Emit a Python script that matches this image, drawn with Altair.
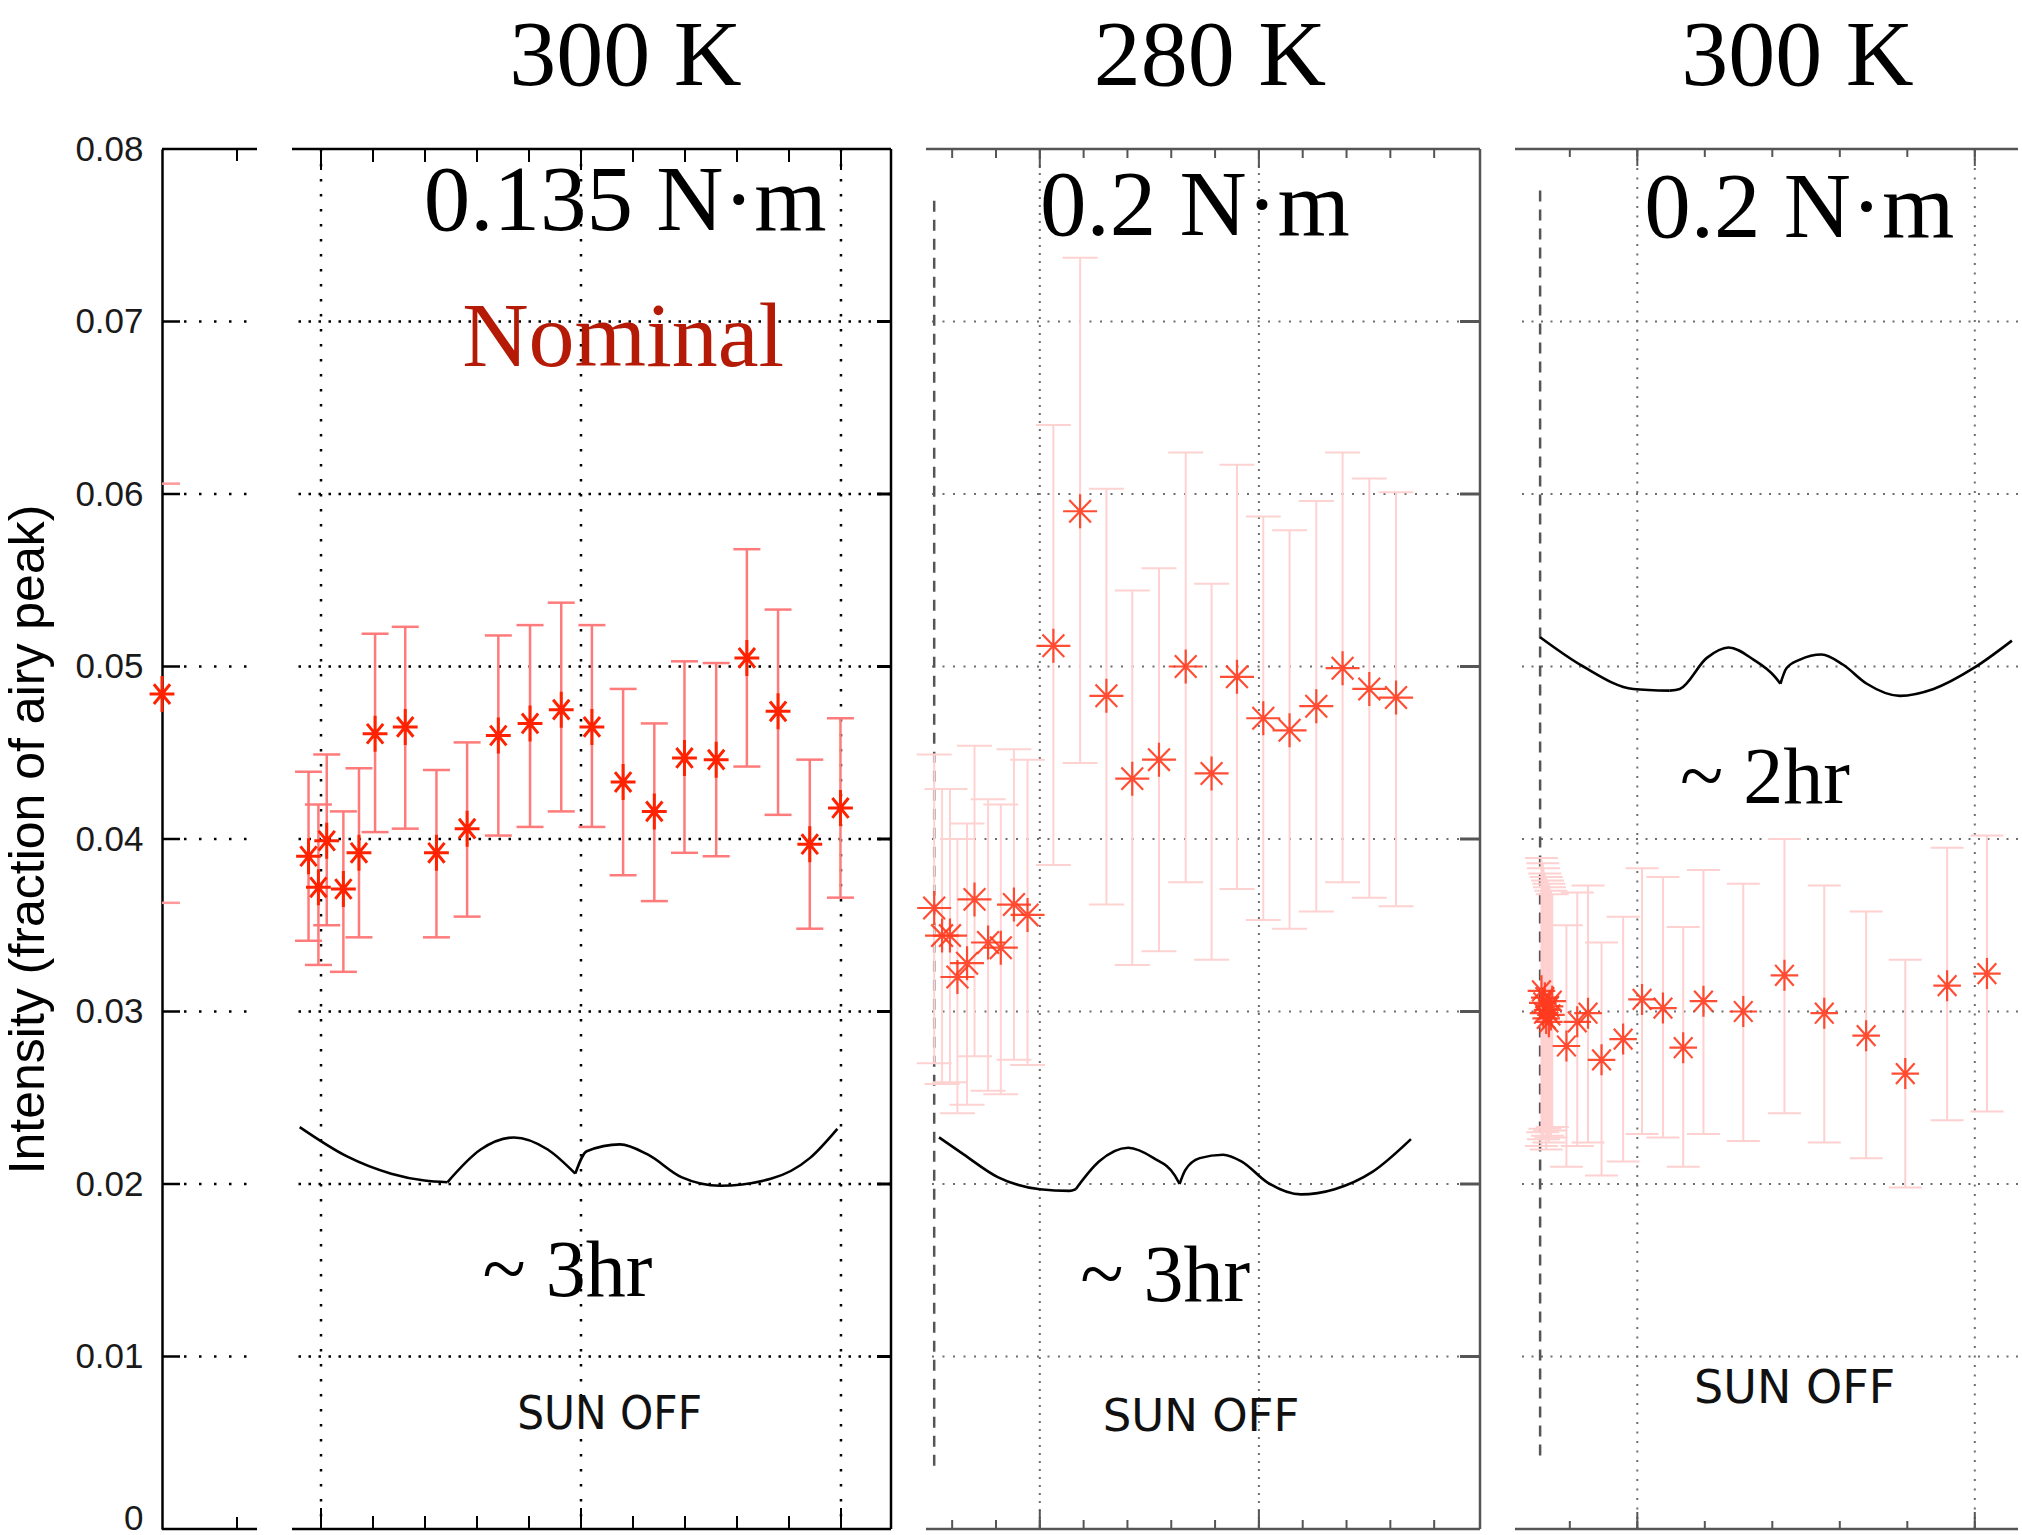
import altair as alt
import pandas as pd

# ---------------- data ----------------
Y_TICKS = [0, 0.01, 0.02, 0.03, 0.04, 0.05, 0.06, 0.07, 0.08]
GRID_Y = [0.01, 0.02, 0.03, 0.04, 0.05, 0.06, 0.07]

# point sitting on the left axis
a_t = [0.0]
a_val = [0.0484]
a_hi = [0.0606]
a_lo = [0.0363]

# panel 1: 300 K, 0.135 N·m (nominal)
p1_t = [-0.24, -0.05, 0.11, 0.43, 0.73, 1.04, 1.62, 2.22, 2.81, 3.41, 4.02,
        4.62, 5.21, 5.81, 6.41, 6.99, 7.60, 8.19, 8.79, 9.40, 9.99]
p1_val = [0.0390, 0.0372, 0.0399, 0.0371, 0.0392, 0.0461, 0.0465, 0.0392, 0.0406, 0.0460, 0.0467,
          0.0475, 0.0465, 0.0433, 0.0416, 0.0447, 0.0446, 0.0505, 0.0474, 0.0397, 0.0418]
p1_hi = [0.0439, 0.0420, 0.0449, 0.0416, 0.0441, 0.0519, 0.0523, 0.0440, 0.0456, 0.0518, 0.0524,
         0.0537, 0.0524, 0.0487, 0.0467, 0.0503, 0.0502, 0.0568, 0.0533, 0.0446, 0.0470]
p1_lo = [0.0341, 0.0327, 0.0350, 0.0323, 0.0343, 0.0404, 0.0406, 0.0343, 0.0355, 0.0402, 0.0407,
         0.0416, 0.0407, 0.0379, 0.0364, 0.0392, 0.0390, 0.0442, 0.0414, 0.0348, 0.0366]

# panel 2: 280 K, 0.2 N·m
p2_t = [-2.41, -2.23, -2.05, -1.88, -1.66, -1.49, -1.18, -0.89, -0.59, -0.28, 0.31, 0.92,
        1.52, 2.11, 2.72, 3.33, 3.92, 4.50, 5.10, 5.70, 6.31, 6.91, 7.52, 8.13]
p2_val = [0.0360, 0.0344, 0.0344, 0.0320, 0.0328, 0.0365, 0.0340, 0.0337, 0.0362, 0.0356, 0.0512, 0.0590,
          0.0483, 0.0435, 0.0446, 0.0500, 0.0438, 0.0494, 0.0470, 0.0463, 0.0477, 0.0499, 0.0487, 0.0482]
p2_hi = [0.0449, 0.0429, 0.0429, 0.0400, 0.0409, 0.0454, 0.0423, 0.0420, 0.0452, 0.0446, 0.0640, 0.0737,
         0.0603, 0.0544, 0.0557, 0.0624, 0.0548, 0.0617, 0.0587, 0.0579, 0.0596, 0.0624, 0.0609, 0.0601]
p2_lo = [0.0270, 0.0258, 0.0259, 0.0241, 0.0246, 0.0274, 0.0254, 0.0252, 0.0272, 0.0269, 0.0385, 0.0444,
         0.0362, 0.0327, 0.0335, 0.0375, 0.0330, 0.0371, 0.0353, 0.0348, 0.0358, 0.0375, 0.0366, 0.0361]

# panel 3: 300 K, 0.2 N·m
p3_t = [-1.42, -1.40, -1.39, -1.37, -1.35, -1.33, -1.31, -1.30, -1.28, -1.26,
        -1.05, -0.89, -0.73, -0.53, -0.21, 0.07, 0.38, 0.68, 0.98, 1.57, 2.18, 2.77, 3.39, 3.97, 4.59, 5.18]
p3_val = [0.0312, 0.0305, 0.0299, 0.0308, 0.0296, 0.0301, 0.0294, 0.0303, 0.0298, 0.0306,
          0.0280, 0.0294, 0.0299, 0.0272, 0.0284, 0.0307, 0.0302, 0.0279, 0.0306, 0.0300, 0.0321, 0.0299,
          0.0286, 0.0264, 0.0315, 0.0322]
p3_hi = [0.0389, 0.0386, 0.0383, 0.0380, 0.0378, 0.0376, 0.0374, 0.0372, 0.0370, 0.0368,
         0.0350, 0.0369, 0.0373, 0.0340, 0.0355, 0.0383, 0.0378, 0.0349, 0.0382, 0.0374, 0.0400, 0.0373,
         0.0358, 0.0330, 0.0395, 0.0402]
p3_lo = [0.0222, 0.0230, 0.0226, 0.0232, 0.0220, 0.0228, 0.0224, 0.0231, 0.0227, 0.0233,
         0.0210, 0.0222, 0.0224, 0.0205, 0.0213, 0.0229, 0.0227, 0.0210, 0.0229, 0.0225, 0.0241, 0.0224,
         0.0215, 0.0198, 0.0237, 0.0242]

# curly braces (hand-drawn), with indices where the stroke has a corner
b1_t = [-0.41, 0.50, 1.35, 1.99, 2.43, 3.07, 3.71, 4.36, 4.89, 5.11, 5.75, 6.29, 6.93, 7.68, 8.65, 9.40, 9.93]
b1_v = [0.0233, 0.0216, 0.0206, 0.0202, 0.0201, 0.0220, 0.0227, 0.0220, 0.0206, 0.0219, 0.0223, 0.0217,
        0.0204, 0.0199, 0.0203, 0.0215, 0.0232]
b1_breaks = [4, 8]
b2_t = [-2.30, -1.73, -0.96, 0.00, 0.68, 0.82, 1.35, 2.02, 2.60, 3.08, 3.19, 3.32, 3.65, 4.18, 4.61,
        5.19, 5.96, 6.73, 7.59, 8.47]
b2_v = [0.0227, 0.0217, 0.0204, 0.0197, 0.0196, 0.0197, 0.0213, 0.0221, 0.0215, 0.0205, 0.0200, 0.0208,
        0.0215, 0.0217, 0.0213, 0.0201, 0.0194, 0.0197, 0.0207, 0.0226]
b2_breaks = [5, 10]
b3_t = [-1.44, -0.80, -0.06, 0.48, 0.63, 1.03, 1.35, 1.72, 2.04, 2.12, 2.21, 2.41, 2.73, 3.05, 3.40,
        3.89, 4.39, 4.98, 5.55]
b3_v = [0.0517, 0.0500, 0.0487, 0.0486, 0.0487, 0.0505, 0.0511, 0.0504, 0.0494, 0.0490, 0.0499, 0.0504,
        0.0507, 0.0501, 0.0490, 0.0483, 0.0487, 0.0499, 0.0515]
b3_breaks = [3, 9]

# panel headings and annotations
titles = ["300 K", "280 K", "300 K"]
p1_notes = [("0.135 N·m", 5.85, 0.0753), ("Nominal", 5.81, 0.0674), ("~ 3hr", 4.74, 0.0135), ("SUN OFF", 5.55, 0.0058)]
p2_notes = [("0.2 N·m", 3.54, 0.0750), ("~ 3hr", 2.86, 0.0132), ("SUN OFF", 3.68, 0.0057)]
p3_notes = [("0.2 N·m", 2.40, 0.0749), ("~ 2hr", 1.89, 0.0421), ("SUN OFF", 2.33, 0.0073)]

# x ticks / grid positions of each panel
p1_minor = list(range(0, 11)); p1_major = [0, 5, 10]
p2_minor = list(range(-2, 10)); p2_major = [0, 5]
p3_minor = list(range(-1, 6)); p3_major = [0, 5]
p2_dash = (-2.41, 0.0770, 0.0034)
p3_dash = (-1.44, 0.0776, 0.0038)

# ---------------- drawing ----------------
H = 1380
SERIF = "Liberation Serif, Times New Roman, serif"
SANS = "Liberation Sans, Arial, sans-serif"
NARROW = "Liberation Sans Narrow, DejaVu Sans Condensed, Liberation Sans, sans-serif"
DEJAVU = "DejaVu Sans, sans-serif"
YS = alt.Scale(domain=[0, 0.08], nice=False, zero=False)

P_AST1 = "M-0.69,0L0.69,0M0,-1L0,1M-0.45,-0.55L0.45,0.55M-0.45,0.55L0.45,-0.55"
P_AST2 = "M-1,0L1,0M0,-1L0,1M-0.64,-0.66L0.64,0.66M-0.64,0.66L0.64,-0.66"
P_AST3 = "M-0.89,0L0.89,0M0,-1L0,1M-0.6,-0.67L0.6,0.67M-0.6,0.67L0.6,-0.67"
CAP = "M-1,0L1,0"
HALFCAP = "M0,0L1,0"


def brace_df(ts, vs, breaks):
    rows = []
    cuts = [0] + breaks + [len(ts) - 1]
    for s in range(len(cuts) - 1):
        for i in range(cuts[s], cuts[s + 1] + 1):
            rows.append({"t": ts[i], "v": vs[i], "seg": s})
    return pd.DataFrame(rows)


def one():
    return pd.DataFrame({"k": [0]})


def make_panel(dom, width, t, val, hi, lo, brace, notes, minor, major, dash, st, title, dx, right_border):
    xs = alt.Scale(domain=dom, nice=False, zero=False)

    def X(f):
        return alt.X(f, type="quantitative", scale=xs, axis=None)

    def Y(f):
        return alt.Y(f, type="quantitative", scale=YS, axis=None)

    pts = pd.DataFrame({"t": t, "val": val, "hi": hi, "lo": lo})
    layers = []
    layers.append(alt.Chart(pd.DataFrame({"g": GRID_Y})).mark_rule(
        color=st["grid"], strokeWidth=st["gw"], strokeDash=st["dh"]).encode(y=Y("g")))
    layers.append(alt.Chart(pd.DataFrame({"g": major})).mark_rule(
        color=st["grid"], strokeWidth=st["gw"], strokeDash=st["dv"]).encode(x=X("g")))
    if dash is not None:
        layers.append(alt.Chart(pd.DataFrame({"g": [dash[0]], "a": [dash[1]], "b": [dash[2]]})).mark_rule(
            color="#555555", strokeWidth=2.5, strokeDash=[11, 8]).encode(x=X("g"), y=Y("a"), y2="b"))
    # frame
    layers.append(alt.Chart(pd.DataFrame({"g": [0, 0.08]})).mark_rule(
        color=st["border"], strokeWidth=2.5).encode(y=Y("g")))
    if right_border:
        layers.append(alt.Chart(pd.DataFrame({"g": [dom[1]]})).mark_rule(
            color=st["border"], strokeWidth=2.5).encode(x=X("g")))
        layers.append(alt.Chart(pd.DataFrame({"g": GRID_Y})).mark_rule(
            color=st["border"], strokeWidth=3).encode(
            y=Y("g"), x=alt.value(width - st["rt"]), x2=alt.value(width)))
    tk = pd.DataFrame({"g": minor})
    mj = pd.DataFrame({"g": major})
    for df, ln in ((tk, st["tmin"]), (mj, st["tmaj"])):
        layers.append(alt.Chart(df).mark_rule(color=st["border"], strokeWidth=2).encode(
            x=X("g"), y=alt.value(0), y2=alt.value(ln)))
        layers.append(alt.Chart(df).mark_rule(color=st["border"], strokeWidth=2).encode(
            x=X("g"), y=alt.value(H), y2=alt.value(H - ln)))
    # error bars and markers
    base = alt.Chart(pts)
    layers.append(base.mark_rule(color=st["err"], strokeWidth=st["ew"]).encode(x=X("t"), y=Y("lo"), y2="hi"))
    for f in ("hi", "lo"):
        layers.append(base.mark_point(shape=CAP, filled=False, color=st["err"], strokeWidth=st["ew"],
                                      size=st["cap"] ** 2, opacity=1).encode(x=X("t"), y=Y(f)))
    layers.append(base.mark_point(shape=st["path"], filled=False, color=st["mk"], strokeWidth=st["mw"],
                                  size=st["ms"] ** 2, opacity=st["mo"]).encode(x=X("t"), y=Y("val")))
    # brace
    layers.append(alt.Chart(brace).mark_line(color="black", strokeWidth=2.6, interpolate="monotone").encode(
        x=X("t"), y=Y("v"), detail="seg:N", order="t:Q"))
    # annotations
    for (txt, x, y), (font, fs, col) in zip(notes, st["fonts"]):
        layers.append(alt.Chart(pd.DataFrame({"text": [txt], "x": [x], "y": [y]})).mark_text(
            font=font, fontSize=fs, color=col, baseline="alphabetic", align="center").encode(
            x=X("x"), y=Y("y"), text="text:N"))
    return alt.layer(*layers).properties(
        width=width, height=H,
        title=alt.TitleParams(text=title, font=SERIF, fontSize=94, fontWeight="normal", color="black",
                              anchor="middle", baseline="alphabetic", offset=-31, dx=dx))


S1 = dict(grid="#000000", gw=2.5, dh=[2.5, 7.5], dv=[2.5, 12.5], border="#000000", rt=14, tmin=13, tmaj=21,
          err="#FF7B7B", ew=2.5, cap=27, mk="#FF2200", mw=3, ms=36, mo=1.0, path=P_AST1,
          fonts=[(SERIF, 93, "black"), (SERIF, 92, "#B41A05"), (SERIF, 80, "black"), (NARROW, 47, "#111111")])
S2 = dict(grid="#6E6E6E", gw=2, dh=[2, 8.5], dv=[2, 6], border="#555555", rt=20, tmin=9, tmaj=19,
          err="#FFD2D2", ew=2, cap=35, mk="#FF3B1F", mw=2.2, ms=34, mo=0.9, path=P_AST2,
          fonts=[(SERIF, 93, "black"), (SERIF, 80, "black"), (DEJAVU, 45, "#111111")])
S3 = dict(grid="#6E6E6E", gw=2, dh=[2, 7.5], dv=[2, 7.5], border="#555555", rt=20, tmin=8, tmaj=17,
          err="#FFD0D0", ew=2, cap=33, mk="#FF3B1F", mw=2.2, ms=31, mo=0.9, path=P_AST3,
          fonts=[(SERIF, 93, "black"), (SERIF, 80, "black"), (DEJAVU, 46, "#111111")])

panel1 = make_panel([-0.558, 10.962], 599, p1_t, p1_val, p1_hi, p1_lo, brace_df(b1_t, b1_v, b1_breaks),
                    p1_notes, p1_minor, p1_major, None, S1, titles[0], 34, True)
panel2 = make_panel([-2.597, 10.046], 554, p2_t, p2_val, p2_hi, p2_lo, brace_df(b2_t, b2_v, b2_breaks),
                    p2_notes, p2_minor, p2_major, p2_dash, S2, titles[1], 7, True)
panel3 = make_panel([-1.812, 5.640], 503, p3_t, p3_val, p3_hi, p3_lo, brace_df(b3_t, b3_v, b3_breaks),
                    p3_notes, p3_minor, p3_major, p3_dash, S3, titles[2], 31, False)

# ---------------- left axis panel ----------------
AX = alt.Axis(values=Y_TICKS,
              labelExpr="datum.value == 0 ? '0' : format(datum.value, '.2f')",
              labelFont=SANS, labelFontSize=35, labelColor="#1a1a1a", labelPadding=19,
              labelBaseline={"condition": {"test": "datum.value === 0", "value": "alphabetic"}, "value": "middle"},
              ticks=False, tickSize=0, grid=False, domain=True, domainColor="black", domainWidth=2.5,
              title="Intensity (fraction of airy peak)", titleFont=SANS, titleFontSize=50,
              titleFontWeight="normal", titleColor="black", titlePadding=21)
XA = alt.Scale(domain=[0, 1], nice=False, zero=False)
AW = 95


def YA(f):
    return alt.Y(f, type="quantitative", scale=YS, axis=AX)


def XAx(f):
    return alt.X(f, type="quantitative", scale=XA, axis=None)


gdf = pd.DataFrame({"g": GRID_Y})
adf = pd.DataFrame({"t": a_t, "val": a_val, "hi": a_hi, "lo": a_lo})
axis_layers = [
    alt.Chart(gdf).mark_rule(color="black", strokeWidth=2.5, strokeDash=[2.5, 12.5]).encode(
        y=YA("g"), x=alt.value(22), x2=alt.value(92)),
    alt.Chart(gdf).mark_rule(color="black", strokeWidth=2.5).encode(
        y=YA("g"), x=alt.value(0), x2=alt.value(18)),
    alt.Chart(pd.DataFrame({"g": [0, 0.08]})).mark_rule(color="black", strokeWidth=2.5).encode(
        y=YA("g"), x=alt.value(0), x2=alt.value(AW)),
    alt.Chart(one()).mark_rule(color="black", strokeWidth=2).encode(
        x=alt.value(75), y=alt.value(0), y2=alt.value(12)),
    alt.Chart(one()).mark_rule(color="black", strokeWidth=2).encode(
        x=alt.value(75), y=alt.value(H), y2=alt.value(H - 12)),
    alt.Chart(adf).mark_point(shape=HALFCAP, filled=False, color="#FF9A9A", strokeWidth=2.5, size=36 ** 2,
                              opacity=1).encode(x=XAx("t"), y=YA("hi")),
    alt.Chart(adf).mark_point(shape=HALFCAP, filled=False, color="#FF9A9A", strokeWidth=2.5, size=36 ** 2,
                              opacity=1).encode(x=XAx("t"), y=YA("lo")),
    alt.Chart(adf).mark_point(shape=P_AST1, filled=False, color="#FF2200", strokeWidth=3, size=36 ** 2,
                              opacity=1).encode(x=XAx("t"), y=YA("val")),
]
axis_panel = alt.layer(*axis_layers).properties(width=AW, height=H)

chart = alt.hconcat(axis_panel, panel1, panel2, panel3, spacing=35, bounds="flush").configure_view(
    stroke=None).properties(padding={"left": 3, "top": 9, "right": 0, "bottom": 0}, background="white")

chart.save("out.html", embed_options={"renderer": "svg", "actions": False})
